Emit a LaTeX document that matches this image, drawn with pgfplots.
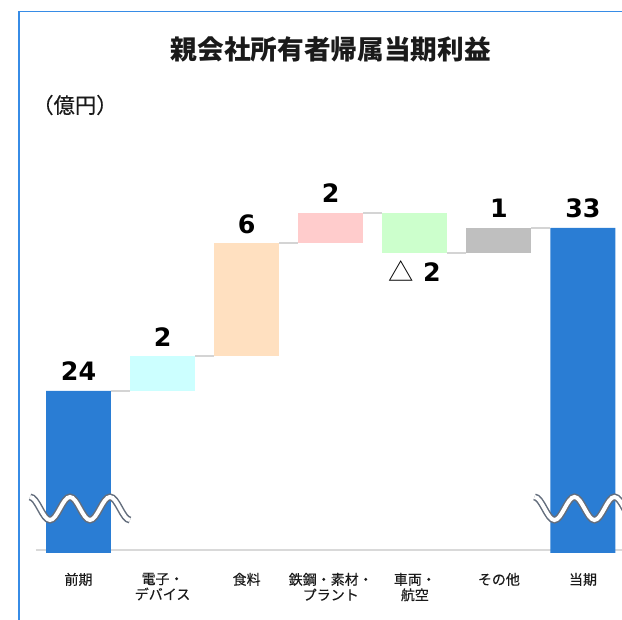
\documentclass[border=0pt]{standalone}
\usepackage{pgfplots}
\pgfplotsset{compat=1.18}
\usepackage{fontspec}
\setmainfont{DejaVu Sans}
\newfontfamily\jp{Noto Sans CJK JP}
\newfontfamily\jpm[FakeBold=0.35]{Noto Sans CJK JP}
\definecolor{barblue}{RGB}{42,125,212}
\definecolor{barcyan}{RGB}{204,255,255}
\definecolor{barpeach}{RGB}{255,224,192}
\definecolor{barpink}{RGB}{255,204,204}
\definecolor{bargreen}{RGB}{204,255,204}
\definecolor{bargray}{RGB}{191,191,191}
\definecolor{conn}{RGB}{212,212,212}
\definecolor{basegray}{RGB}{217,217,217}
\definecolor{frameblue}{RGB}{55,140,230}
\definecolor{wavegray}{RGB}{100,110,125}
\definecolor{txt}{RGB}{26,26,26}
\tikzset{
  waveA/.style={wavegray, line width=5.25pt, line cap=butt},
  waveB/.style={white, line width=3pt, line cap=butt},
  vl/.style={font=\bfseries\fontsize{19}{22}\selectfont, text=black, inner sep=0pt, anchor=base, yshift=7.5pt},
  vlneg/.style={font=\bfseries\fontsize{19}{22}\selectfont, text=black, inner sep=0pt, anchor=base, yshift=-21.5pt}
}
\newcommand\wavepath{%
    (axis cs:-0.5768,18.147) cos (axis cs:-0.4579,17.512) sin (axis cs:-0.3390,16.877)
    cos (axis cs:-0.2200,17.512) sin (axis cs:-0.1011,18.147)
    cos (axis cs:0.0178,17.512) sin (axis cs:0.1368,16.877)
    cos (axis cs:0.2557,17.512) sin (axis cs:0.3746,18.147)
    cos (axis cs:0.4936,17.512) sin (axis cs:0.6125,16.877)}
\newcommand\wavepathB{%
    (axis cs:5.4232,18.147) cos (axis cs:5.5421,17.512) sin (axis cs:5.6610,16.877)
    cos (axis cs:5.7800,17.512) sin (axis cs:5.8989,18.147)
    cos (axis cs:6.0178,17.512) sin (axis cs:6.1368,16.877)
    cos (axis cs:6.2557,17.512) sin (axis cs:6.3746,18.147)
    cos (axis cs:6.4936,17.512) sin (axis cs:6.6125,16.877)}
\begin{document}
\begin{tikzpicture}
\begin{axis}[name=ax, scale only axis, width=466.5pt, height=465pt,
  xmin=-0.9336, xmax=6.464, ymin=11.355, ymax=45.59,
  ybar stacked, bar width=0.773,
  axis line style={draw=none}, major tick length=0pt, ytick=\empty,
  xtick={0,...,6},
  xticklabels={前期, {電子・\\デバイス}, 食料, {鉄鋼・素材・\\プラント}, {車両・\\航空}, その他, 当期},
  xticklabel style={font=\jpm\fontsize{10.5}{11.6}\selectfont, align=center, inner sep=0pt, anchor=north, yshift=35.5pt, text=txt},
  clip=true,
  after end axis/.code={
    \draw[waveA] \wavepath;
    \draw[waveB] \wavepath;
    \draw[waveA] \wavepathB;
    \draw[waveB] \wavepathB;
  }]
% invisible base
\addplot[fill=none, draw=none] coordinates {(0,15.055) (1,24) (2,25.93) (3,32.17) (4,31.62) (5,31.62) (6,15.055)};
\addplot[fill=barblue, draw=none] coordinates {(0,8.945) (1,0) (2,0) (3,0) (4,0) (5,0) (6,17.945)};
\addplot[fill=barcyan, draw=none] coordinates {(0,0) (1,1.93) (2,0) (3,0) (4,0) (5,0) (6,0)};
\addplot[fill=barpeach, draw=none] coordinates {(0,0) (1,0) (2,6.24) (3,0) (4,0) (5,0) (6,0)};
\addplot[fill=barpink, draw=none] coordinates {(0,0) (1,0) (2,0) (3,1.66) (4,0) (5,0) (6,0)};
\addplot[fill=bargreen, draw=none] coordinates {(0,0) (1,0) (2,0) (3,0) (4,2.21) (5,0) (6,0)};
\addplot[fill=bargray, draw=none] coordinates {(0,0) (1,0) (2,0) (3,0) (4,0) (5,1.38) (6,0)};
% connectors
\addplot[stack plots=false, sharp plot, mark=none, draw=conn, line width=1.5pt] coordinates {(0.3865,24) (0.6135,24)};
\addplot[stack plots=false, sharp plot, mark=none, draw=conn, line width=1.5pt] coordinates {(1.3865,25.93) (1.6135,25.93)};
\addplot[stack plots=false, sharp plot, mark=none, draw=conn, line width=1.5pt] coordinates {(2.3865,32.17) (2.6135,32.17)};
\addplot[stack plots=false, sharp plot, mark=none, draw=conn, line width=1.5pt] coordinates {(3.3865,33.83) (3.6135,33.83)};
\addplot[stack plots=false, sharp plot, mark=none, draw=conn, line width=1.5pt] coordinates {(4.3865,31.62) (4.6135,31.62)};
\addplot[stack plots=false, sharp plot, mark=none, draw=conn, line width=1.5pt] coordinates {(5.3865,33.0) (5.6135,33.0)};
% baseline
\addplot[stack plots=false, sharp plot, mark=none, draw=basegray, line width=1.5pt] coordinates {(-0.5055,15.22) (6.5,15.22)};
% frame
\draw[frameblue, line width=1.3pt] (axis cs:-0.7077,11.0) -- (axis cs:-0.7077,44.955) -- (axis cs:6.6,44.955);
% title and unit
\node[font=\jp\bfseries\fontsize{20}{24}\selectfont, text=txt, inner sep=0pt] at (axis cs:3.003,42.885) {親会社所有者帰属当期利益};
\node[font=\jpm\fontsize{16}{19}\selectfont, text=txt, inner sep=0pt, anchor=west] at (axis cs:-0.553,39.79) {（億円）};
% value labels
\node[vl] at (axis cs:0,24) {24};
\node[vl] at (axis cs:1,25.93) {2};
\node[vl] at (axis cs:2,32.17) {6};
\node[vl] at (axis cs:3,33.83) {2};
\node[vlneg] at (axis cs:4,31.62) {{\jp\mdseries △} 2};
\node[vl] at (axis cs:5,33.0) {1};
\node[vl] at (axis cs:6,33.0) {33};
\end{axis}
\pgfresetboundingbox
\path[use as bounding box] (ax.south west) rectangle (ax.north east);
\end{tikzpicture}
\end{document}
